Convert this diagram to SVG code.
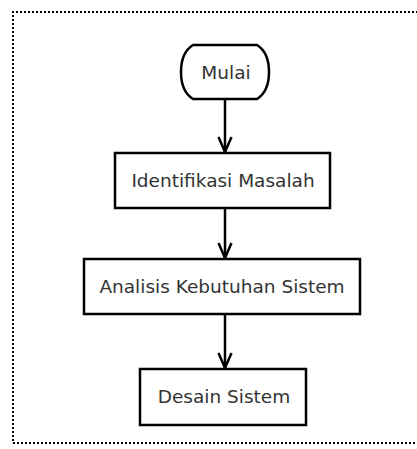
<svg xmlns="http://www.w3.org/2000/svg" width="417" height="449" viewBox="0 0 417 449">
  <defs>
    <marker id="arrow" markerWidth="18" markerHeight="16" refX="16" refY="8" orient="auto" markerUnits="userSpaceOnUse" viewBox="0 0 18 16">
      <path d="M1,1.5 L16,8 L1,14.5" fill="none" stroke="#000" stroke-width="2.5"/>
    </marker>
  </defs>
  <style>
    .frame { fill: none; stroke: #000; stroke-width: 2; stroke-dasharray: 2 2; }
    .node { fill: #fff; stroke: #000; stroke-width: 2.5; }
    .label { font-family: "DejaVu Sans", "Liberation Sans", sans-serif; font-size: 18.5px; fill: #333; text-anchor: middle; dominant-baseline: central; }
    .edge { fill: none; stroke: #000; stroke-width: 2.5; }
  </style>
  <rect width="417" height="449" fill="#fff"/>
  <!-- dotted frame, open on the right -->
  <path class="frame" d="M418,12 L13,12 L13,443 L418,443"/>

  <g id="connectors">
    <line class="edge" x1="225" y1="100" x2="225" y2="152" marker-end="url(#arrow)"/>
    <line class="edge" x1="225" y1="208" x2="225" y2="258" marker-end="url(#arrow)"/>
    <line class="edge" x1="225" y1="314" x2="225" y2="368" marker-end="url(#arrow)"/>
  </g>

  <g id="mulai">
    <path class="node" d="M193,45 L257,45 C265,50 269,60 269,72 C269,84 265,94 257,99 L193,99 C185,94 181,84 181,72 C181,60 185,50 193,45 Z"/>
    <text class="label" x="226" y="72">Mulai</text>
  </g>
  <g id="identifikasi">
    <rect class="node" x="115" y="153" width="215" height="55"/>
    <text class="label" x="223" y="180">Identifikasi Masalah</text>
  </g>
  <g id="analisis">
    <rect class="node" x="84" y="259" width="276" height="55"/>
    <text class="label" x="222" y="286">Analisis Kebutuhan Sistem</text>
  </g>
  <g id="desain">
    <rect class="node" x="140" y="369" width="166" height="56"/>
    <text class="label" x="224" y="396">Desain Sistem</text>
  </g>
</svg>
